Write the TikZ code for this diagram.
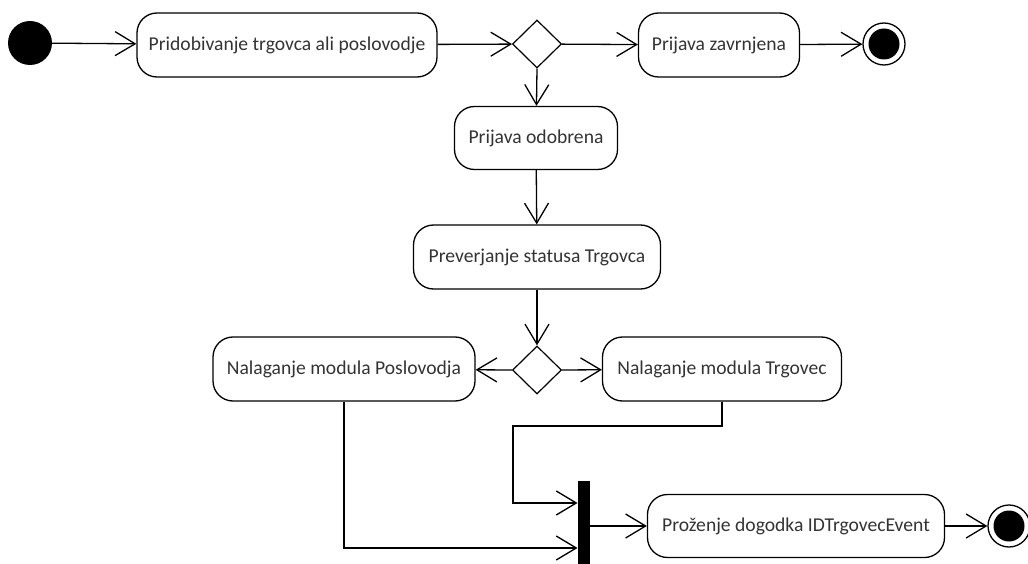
\documentclass[tikz,border=0pt]{standalone}
\usepackage{fontspec}
\setmainfont{Carlito}
\usetikzlibrary{arrows.meta,shapes.geometric}
\definecolor{textgray}{HTML}{333333}
\begin{document}
\begin{tikzpicture}[x=1pt,y=-1pt,
  act/.style={draw, rounded corners=20pt, line width=1.3pt, minimum height=64pt,
    inner sep=0pt, text=textgray, font=\fontsize{19.6}{22}\selectfont},
  choice/.style={draw, diamond, line width=1.2pt, minimum width=49pt,
    minimum height=48pt, inner sep=0pt},
  initial/.style={circle, fill=black, minimum size=44pt, inner sep=0pt},
  final/.style={circle, draw, line width=1.3pt, minimum size=42pt, inner sep=0pt},
  joinbar/.style={fill=black, minimum width=12pt, minimum height=89pt, inner sep=0pt},
  flow/.style={line width=1.3pt, -{Straight Barb[length=20pt,width=24pt]}}]
\useasboundingbox (0,0) rectangle (1028,564);

% nodes
\node[initial] (start) at (30,43) {};
\node[act, minimum width=300pt] (fetch) at (287,45) {Pridobivanje trgovca ali poslovodje};
\node[choice] (d1) at (537,44) {};
\node[act, minimum width=161pt] (rejected) at (719,45) {Prijava zavrnjena};
\node[final] (end1) at (884,44) {};
\fill (end1) circle (15.5pt);
\node[act, minimum width=163pt, minimum height=63pt] (approved) at (536,138) {Prijava odobrena};
\node[act, minimum width=247pt] (check) at (537,257) {Preverjanje statusa Trgovca};
\node[choice] (d2) at (537,370) {};
\node[act, minimum width=262pt] (manager) at (344,369) {Nalaganje modula Poslovodja};
\node[act, minimum width=239pt] (trader) at (722,369) {Nalaganje modula Trgovec};
\node[joinbar] (bar) at (583.5,525.5) {};
\node[act, minimum width=297pt, minimum height=63pt] (fire) at (796,526) {Proženje dogodka IDTrgovecEvent};
\node[final] (end2) at (1009,526) {};
\fill (end2) circle (15.5pt);

% connector bends
\coordinate (lowin) at (577.5,548);
\coordinate (bend) at (513,426);
\coordinate (upin) at (577.5,503);

% connectors
\draw[flow] (start) -- (fetch);
\draw[flow] (fetch) -- (d1);
\draw[flow] (d1) -- (rejected);
\draw[flow] (rejected) -- (end1);
\draw[flow] (d1.south) -- (approved);
\draw[flow] (approved) -- (check);
\draw[flow] (check) -- (d2.north);
\draw[flow] (d2.west) -- (manager);
\draw[flow] (d2.east) -- (trader);
\draw[flow] (manager.south) |- (lowin);
\draw[flow] (trader.south) |- (bend) |- (upin);
\draw[flow] (bar.east |- fire.west) -- (fire);
\draw[flow] (fire) -- (end2);
\end{tikzpicture}
\end{document}
